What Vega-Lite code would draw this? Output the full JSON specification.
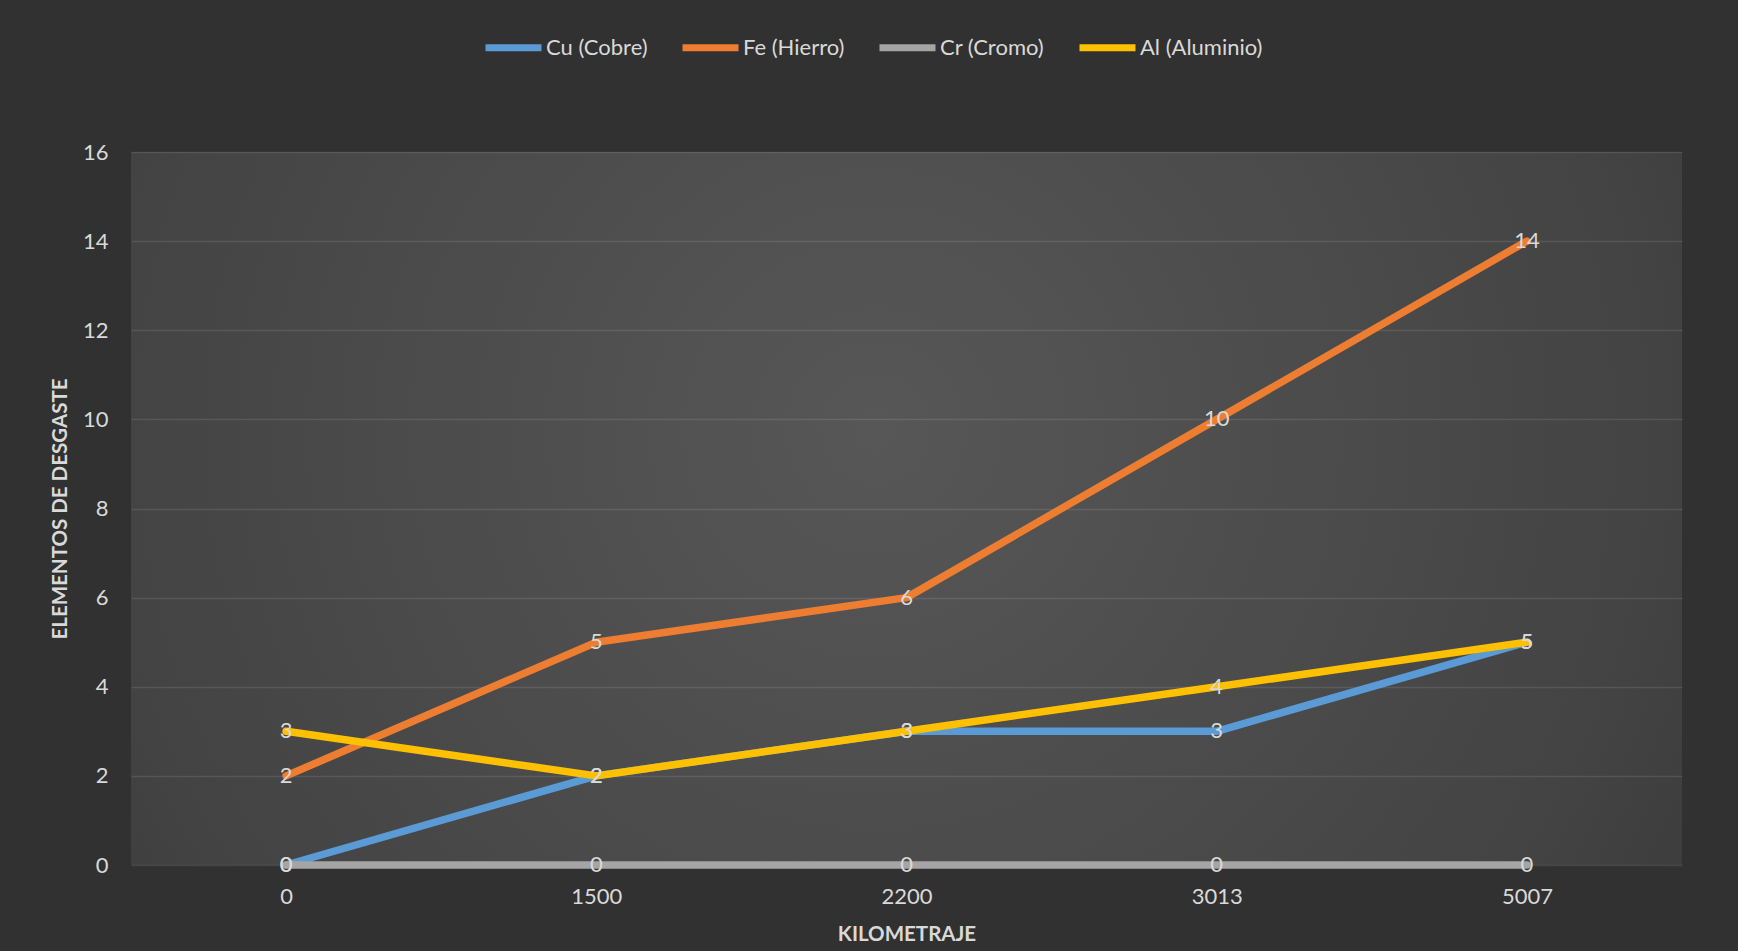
{
  "$schema": "https://vega.github.io/schema/vega-lite/v6.json",
  "width": 1551,
  "height": 713,
  "autosize": {"type": "none"},
  "padding": {"left": 131, "top": 152, "right": 56, "bottom": 86},
  "background": "#313131",
  "view": {
    "stroke": null,
    "fill": {
      "gradient": "radial",
      "x1": 0.48, "y1": 0.45, "r1": 0,
      "x2": 0.48, "y2": 0.45, "r2": 0.72,
      "stops": [
        {"offset": 0, "color": "#575757"},
        {"offset": 0.7, "color": "#434343"},
        {"offset": 1, "color": "#353535"}
      ]
    }
  },
  "config": {
    "font": "Lato",
    "legend": {
      "orient": "none",
      "legendX": 351,
      "legendY": -136,
      "direction": "horizontal",
      "symbolType": "stroke",
      "symbolSize": 3136,
      "symbolStrokeWidth": 7,
      "labelFont": "Lato",
      "labelFontSize": 22,
      "labelColor": "#d9d9d9",
      "labelOffset": 1,
      "columnPadding": 20
    }
  },
  "data": {
    "values": [
      {"km": "0", "serie": "Cu (Cobre)", "valor": 0},
      {"km": "1500", "serie": "Cu (Cobre)", "valor": 2},
      {"km": "2200", "serie": "Cu (Cobre)", "valor": 3},
      {"km": "3013", "serie": "Cu (Cobre)", "valor": 3},
      {"km": "5007", "serie": "Cu (Cobre)", "valor": 5},
      {"km": "0", "serie": "Fe (Hierro)", "valor": 2},
      {"km": "1500", "serie": "Fe (Hierro)", "valor": 5},
      {"km": "2200", "serie": "Fe (Hierro)", "valor": 6},
      {"km": "3013", "serie": "Fe (Hierro)", "valor": 10},
      {"km": "5007", "serie": "Fe (Hierro)", "valor": 14},
      {"km": "0", "serie": "Cr (Cromo)", "valor": 0},
      {"km": "1500", "serie": "Cr (Cromo)", "valor": 0},
      {"km": "2200", "serie": "Cr (Cromo)", "valor": 0},
      {"km": "3013", "serie": "Cr (Cromo)", "valor": 0},
      {"km": "5007", "serie": "Cr (Cromo)", "valor": 0},
      {"km": "0", "serie": "Al (Aluminio)", "valor": 3},
      {"km": "1500", "serie": "Al (Aluminio)", "valor": 2},
      {"km": "2200", "serie": "Al (Aluminio)", "valor": 3},
      {"km": "3013", "serie": "Al (Aluminio)", "valor": 4},
      {"km": "5007", "serie": "Al (Aluminio)", "valor": 5}
    ]
  },
  "encoding": {
    "x": {
      "field": "km",
      "type": "ordinal",
      "sort": ["0", "1500", "2200", "3013", "5007"],
      "scale": {"type": "point", "padding": 0.5},
      "axis": {
        "title": "KILOMETRAJE",
        "labelAngle": 0,
        "domain": false,
        "ticks": false,
        "grid": false,
        "labelPadding": 21,
        "labelFontSize": 22,
        "labelColor": "#d9d9d9",
        "titleFontSize": 20.5,
        "titleFontWeight": "bold",
        "titleColor": "#d9d9d9",
        "titlePadding": 17
      }
    },
    "y": {
      "field": "valor",
      "type": "quantitative",
      "scale": {"domain": [0, 16], "nice": false},
      "axis": {
        "title": "ELEMENTOS DE DESGASTE",
        "values": [0, 2, 4, 6, 8, 10, 12, 14, 16],
        "domain": false,
        "ticks": false,
        "grid": true,
        "gridColor": "#ffffff",
        "gridOpacity": 0.1,
        "gridWidth": 1.3,
        "labelPadding": 23,
        "labelFontSize": 22,
        "labelColor": "#d9d9d9",
        "titleFontSize": 20.5,
        "titleFontWeight": "bold",
        "titleColor": "#d9d9d9",
        "titlePadding": 12
      }
    }
  },
  "layer": [
    {
      "mark": {"type": "line", "strokeWidth": 7.5, "strokeJoin": "round", "strokeCap": "round"},
      "encoding": {
        "color": {
          "field": "serie",
          "type": "nominal",
          "sort": ["Cu (Cobre)", "Fe (Hierro)", "Cr (Cromo)", "Al (Aluminio)"],
          "scale": {
            "domain": ["Cu (Cobre)", "Fe (Hierro)", "Cr (Cromo)", "Al (Aluminio)"],
            "range": ["#5B9BD5", "#ED7D31", "#A5A5A5", "#FFC000"]
          },
          "legend": {"title": null}
        }
      }
    },
    {
      "mark": {"type": "text", "fontSize": 22, "fill": "#d9d9d9", "baseline": "middle", "align": "center"},
      "encoding": {
        "text": {"field": "valor", "type": "quantitative", "format": "d"}
      }
    }
  ]
}
